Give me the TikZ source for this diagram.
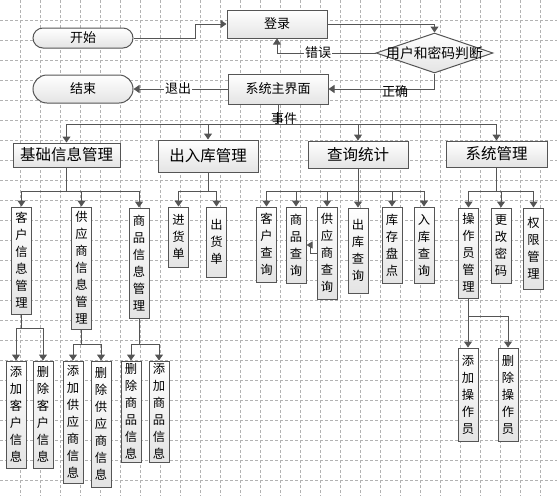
\documentclass[tikz,border=0pt]{standalone}
\usepackage{fontspec}
\setmainfont{Noto Sans CJK SC}
\usetikzlibrary{arrows.meta,shapes.geometric}
\definecolor{linec}{RGB}{85,85,85}
\definecolor{gridc}{RGB}{178,178,178}
\definecolor{boxbot}{RGB}{228,228,228}
\tikzset{
  box/.style={draw=linec, line width=1pt, top color=white, bottom color=boxbot, inner sep=0pt, align=center},
  big/.style={font=\fontsize{15.5}{18}\selectfont},
  mid/.style={font=\fontsize{13}{16}\selectfont},
  dia/.style={font=\fontsize{13.8}{16}\selectfont},
  vt/.style={font=\fontsize{12.3}{17}\selectfont, minimum width=20pt},
  ln/.style={draw=linec, line width=1pt},
  arr/.style={ln, -{Triangle[length=6pt,width=8pt]}},
  lab/.style={mid, fill=white, inner sep=1pt},
  gridline/.style={draw=gridc, line width=0.8pt, dash pattern=on 3pt off 2pt}
}
\begin{document}
\begin{tikzpicture}[x=1pt,y=-1pt]
\useasboundingbox (0,0) rectangle (557,496);
\fill[white] (0,0) rectangle (557,496);
\foreach \x in {20,40,...,540} \draw[gridline] (\x,0) -- (\x,496);
\foreach \y in {20,40,...,480} \draw[gridline] (0,\y) -- (557,\y);

% top flow
\node[box, mid, minimum width=100pt, minimum height=20pt, rounded corners=10pt] (start) at (83,38) {开始};
\node[box, mid, minimum width=100pt, minimum height=28pt, rounded corners=14pt] (end) at (83,89) {结束};
\node[box, mid, minimum width=100pt, minimum height=28pt] (login) at (277,24) {登录};
\node[diamond, draw=linec, line width=1pt, top color=white, bottom color=boxbot, minimum width=117pt, minimum height=40pt, inner sep=0pt, label={[dia]center:用户和密码判断}] (judge) at (434.5,53) {};
\node[box, mid, minimum width=100pt, minimum height=30pt] (main) at (278,89) {系统主界面};

\coordinate (k1) at (195,0);
\draw[arr] (start.east) -- (start.east -| k1) -- (login.west -| k1) -- (login.west);
\draw[arr] (login.east) -| (judge.north);
\draw[arr] (judge.west) -| (login.south);
\node[lab] (lerr) at (318,53) {错误};
\draw[arr] (judge.south) |- (main.east);
\node[mid, inner sep=0pt] (lok) at (395,92) {正确};
\draw[arr] (main.west) -- (end.east);
\node[lab] (lexit) at (178,89) {退出};

% level 2
\node[box, big, minimum width=107pt, minimum height=24pt] (jc) at (66.5,155) {基础信息管理};
\node[box, big, minimum width=100pt, minimum height=32pt] (crk) at (208,156) {出入库管理};
\node[box, big, minimum width=100pt, minimum height=27pt] (cx) at (358,154.5) {查询统计};
\node[box, big, minimum width=101pt, minimum height=26pt] (xt) at (496.5,154) {系统管理};

\coordinate (bus) at (0,124);
\draw[ln] (main.south) -- (main.south |- bus);
\draw[ln] (jc.north |- bus) -- (xt.north |- bus);
\foreach \n in {jc,crk,cx,xt} \draw[arr] (\n.north |- bus) -- (\n.north);
\node[mid, inner sep=0pt] (levt) at (284,119) {事件};

% level 3
\node[box, vt, minimum height=107pt] (khxx) at (21.5,260.5) {客\\户\\信\\息\\管\\理};
\node[box, vt, minimum height=122pt] (gysxx) at (81.5,268) {供\\应\\商\\信\\息\\管\\理};
\node[box, vt, minimum height=110pt] (spxx) at (139,263) {商\\品\\信\\息\\管\\理};
\node[box, vt, minimum height=60pt] (jhd) at (178.5,237) {进\\货\\单};
\node[box, vt, minimum height=70pt] (chd) at (216.5,242) {出\\货\\单};
\node[box, vt, minimum height=75pt] (khcx) at (266.5,244.5) {客\\户\\查\\询};
\node[box, vt, minimum height=76pt] (spcx) at (296,245) {商\\品\\查\\询};
\node[box, vt, minimum height=92pt] (gyscx) at (327,253) {供\\应\\商\\查\\询};
\node[box, vt, minimum height=85pt] (ckcx) at (358,250.5) {出\\库\\查\\询};
\node[box, vt, minimum height=76pt] (kcpd) at (392,245) {库\\存\\盘\\点};
\node[box, vt, minimum height=76pt] (rkcx) at (424,245) {入\\库\\查\\询};
\node[box, vt, minimum height=90pt] (czygl) at (468.5,253) {操\\作\\员\\管\\理};
\node[box, vt, minimum height=75pt] (ggmm) at (501,245.5) {更\\改\\密\\码};
\node[box, vt, minimum height=81pt] (qxgl) at (533.5,248.5) {权\\限\\管\\理};

\coordinate (l3) at (0,191);
\draw[ln] (jc.south) -- (jc.south |- l3);
\draw[ln] (khxx.north |- l3) -- (spxx.north |- l3);
\foreach \n in {khxx,gysxx,spxx} \draw[arr] (\n.north |- l3) -- (\n.north);
\draw[ln] (crk.south) -- (crk.south |- l3);
\draw[ln] (jhd.north |- l3) -- (chd.north |- l3);
\foreach \n in {jhd,chd} \draw[arr] (\n.north |- l3) -- (\n.north);
\draw[ln] (cx.south) -- (cx.south |- l3);
\draw[ln] (khcx.north |- l3) -- (rkcx.north |- l3);
\foreach \n in {khcx,spcx,gyscx,ckcx,kcpd,rkcx} \draw[arr] (\n.north |- l3) -- (\n.north);
\draw[ln] (xt.south) -- (xt.south |- l3);
\draw[ln] (czygl.north |- l3) -- (qxgl.north |- l3);
\foreach \n in {czygl,ggmm,qxgl} \draw[arr] (\n.north |- l3) -- (\n.north);
\draw[ln, -{Triangle[length=6pt,width=7pt]}] (gyscx.west) -- ++(-6,0) |- (spcx.east);

% level 4
\node[box, vt, minimum height=107pt] (tjkh) at (16,414.5) {添\\加\\客\\户\\信\\息};
\node[box, vt, minimum height=107pt] (sckh) at (43,414.5) {删\\除\\客\\户\\信\\息};
\node[box, vt, minimum height=122pt] (tjgys) at (73,422) {添\\加\\供\\应\\商\\信\\息};
\node[box, vt, minimum height=126pt] (scgys) at (101,424) {删\\除\\供\\应\\商\\信\\息};
\node[box, vt, minimum height=101pt] (scsp) at (131,411.5) {删\\除\\商\\品\\信\\息};
\node[box, vt, minimum height=101pt] (tjsp) at (159,411.5) {添\\加\\商\\品\\信\\息};
\node[box, vt, minimum height=93pt] (tjczy) at (468,394.5) {添\\加\\操\\作\\员};
\node[box, vt, minimum height=93pt] (scczy) at (508,394.5) {删\\除\\操\\作\\员};

\coordinate (l4a) at (0,328);
\coordinate (l4b) at (0,344);
\coordinate (l4c) at (0,316);
\draw[ln] (khxx.south) -- (khxx.south |- l4a);
\draw[ln] (tjkh.north |- l4a) -- (sckh.north |- l4a);
\foreach \n in {tjkh,sckh} \draw[arr] (\n.north |- l4a) -- (\n.north);
\draw[ln] (gysxx.south) -- (gysxx.south |- l4b);
\draw[ln] (tjgys.north |- l4b) -- (scgys.north |- l4b);
\foreach \n in {tjgys,scgys} \draw[arr] (\n.north |- l4b) -- (\n.north);
\draw[ln] (spxx.south) -- (spxx.south |- l4b);
\draw[ln] (scsp.north |- l4b) -- (tjsp.north |- l4b);
\foreach \n in {scsp,tjsp} \draw[arr] (\n.north |- l4b) -- (\n.north);
\draw[ln] (czygl.south) -- (czygl.south |- l4c);
\draw[ln] (tjczy.north |- l4c) -- (scczy.north |- l4c);
\foreach \n in {tjczy,scczy} \draw[arr] (\n.north |- l4c) -- (\n.north);
\end{tikzpicture}
\end{document}
